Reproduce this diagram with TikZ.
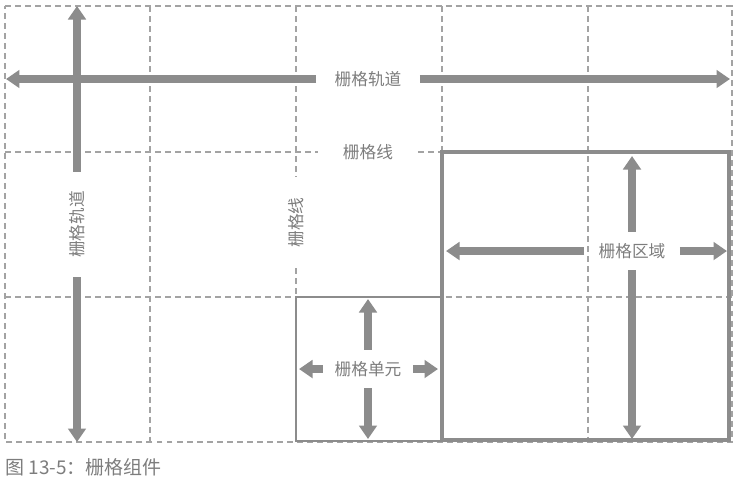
\documentclass[tikz,border=0pt]{standalone}
\usepackage{fontspec}
\newfontfamily\cjk{Noto Sans CJK SC}
\usetikzlibrary{arrows.meta}

\definecolor{linegray}{HTML}{A3A3A3}
\definecolor{arrowgray}{HTML}{8C8C8C}
\definecolor{textgray}{HTML}{7D7D7D}

\tikzset{
	gridline/.style = {draw = linegray, line width = 0.7pt, dash pattern = on 3.4pt off 2.3pt},
	gridarrow/.style = {draw = arrowgray, line width = 0.15cm, -{Triangle[width = 0.35cm, length = 0.27cm]}},
	gridlabel/.style = {text = textgray, font = \cjk\fontsize{9.5}{11}\selectfont, inner sep = 0pt},
}

\begin{document}
\begin{tikzpicture}[x = 0.02cm, y = -0.02cm]
					\useasboundingbox (0, 0) rectangle (739, 485);

					\coordinate (g1) at (5, 6);
					\coordinate (g2) at (732, 6);
					\coordinate (g3) at (732, 442);
					\coordinate (g4) at (5, 442);

					\coordinate (v1a) at (150, 6);
					\coordinate (v1b) at (150, 442);
					\coordinate (v2a) at (296, 6);
					\coordinate (v2b) at (296, 297);
					\coordinate (v3a) at (442, 6);
					\coordinate (v3b) at (442, 152);
					\coordinate (v4a) at (588, 6);
					\coordinate (v4b) at (588, 442);

					\coordinate (h1a) at (5, 152);
					\coordinate (h1b) at (442, 152);
					\coordinate (h2a) at (5, 297);
					\coordinate (h2b) at (732, 297);

					\coordinate (t1) at (6, 79);
					\coordinate (t2) at (730, 79);
					\coordinate (t3) at (77, 6);
					\coordinate (t4) at (77, 442);

					\coordinate (a1) at (446, 251);
					\coordinate (a2) at (727, 251);
					\coordinate (a3) at (632, 156);
					\coordinate (a4) at (632, 439);

					\coordinate (c1) at (299, 369);
					\coordinate (c2) at (438, 369);
					\coordinate (c3) at (368, 299);
					\coordinate (c4) at (368, 439);

					\node [gridlabel, minimum width = 2.06cm] (trackh) at (368, 79) {栅格轨道};
					\node [gridlabel, minimum width = 2.1cm, rotate = 90] (trackv) at (77, 224.5) {栅格轨道};
					\node [gridlabel, minimum width = 1.98cm] (lineh) at (368, 152) {栅格线};
					\node [gridlabel, minimum width = 1.82cm, rotate = 90] (linev) at (296, 222.5) {栅格线};
					\node [gridlabel, minimum width = 1.9cm, minimum height = 0.76cm] (area) at (632, 251) {栅格区域};
					\node [gridlabel, minimum width = 1.8cm, minimum height = 0.76cm] (cell) at (368, 369) {栅格单元};
					\node [gridlabel, font = \cjk\fontsize{10.8}{13}\selectfont, anchor = west] (caption) at (5, 467) {图 13-5：栅格组件};

					\draw [gridline] (g1) -- (g2) -- (g3) -- (g4) -- cycle;
					\draw [gridline] (v1a) -- (v1b);
					\draw [gridline] (v2a) -- (linev);
					\draw [gridline] (linev) -- (v2b);
					\draw [gridline] (v3a) -- (v3b);
					\draw [gridline] (v4a) -- (v4b);
					\draw [gridline] (h1a) -- (lineh);
					\draw [gridline] (lineh) -- (h1b);
					\draw [gridline] (h2a) -- (h2b);

					\draw [draw = arrowgray, line width = 0.04cm] (296, 297) rectangle (442, 441);
					\draw [draw = arrowgray, line width = 0.07cm] (442, 152) rectangle (729, 440);

					\draw [gridarrow] (trackh) -- (t1);
					\draw [gridarrow] (trackh) -- (t2);
					\draw [gridarrow] (trackv) -- (t3);
					\draw [gridarrow] (trackv) -- (t4);

					\draw [gridarrow] (area) -- (a1);
					\draw [gridarrow] (area) -- (a2);
					\draw [gridarrow] (area) -- (a3);
					\draw [gridarrow] (area) -- (a4);

					\draw [gridarrow] (cell) -- (c1);
					\draw [gridarrow] (cell) -- (c2);
					\draw [gridarrow] (cell) -- (c3);
					\draw [gridarrow] (cell) -- (c4);
				\end{tikzpicture}
\end{document}
